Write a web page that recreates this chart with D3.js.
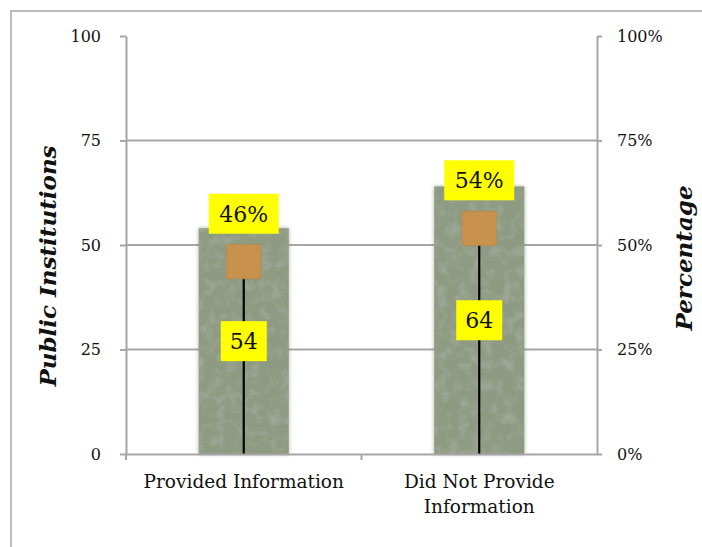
<!DOCTYPE html>
<html>
<head>
<meta charset="utf-8">
<script src="https://cdn.jsdelivr.net/npm/d3@7"></script>
<style>
  body { margin: 0; background: #fff; }
  text { font-family: "DejaVu Serif", "Liberation Serif", serif; }
</style>
</head>
<body>
<div id="chart"></div>
<script>
// data
var categories = ["Provided Information", "Did Not Provide Information"];
var categoryLines = [["Provided Information"], ["Did Not Provide", "Information"]];
var counts = [54, 64];
var percents = [46, 54];
var leftTicks = [0, 25, 50, 75, 100];
var rightTicks = [0, 25, 50, 75, 100];

var width = 702, height = 547;
var margin = { top: 36, right: 105, bottom: 93, left: 126 };
var innerW = width - margin.left - margin.right;
var innerH = height - margin.top - margin.bottom;

var svg = d3.select("#chart").append("svg")
    .attr("width", width)
    .attr("height", height);

// texture filter for the bars
var defs = svg.append("defs");
var f = defs.append("filter").attr("id", "grain")
    .attr("x", "-10%").attr("y", "-5%").attr("width", "120%").attr("height", "110%");
f.append("feGaussianBlur").attr("in", "SourceAlpha").attr("stdDeviation", 2).attr("result", "shadow");
f.append("feFlood").attr("flood-color", "#6f7a66").attr("flood-opacity", 0.6);
f.append("feComposite").attr("in2", "shadow").attr("operator", "in").attr("result", "shadowC");
f.append("feTurbulence").attr("type", "fractalNoise").attr("baseFrequency", "0.09")
    .attr("numOctaves", 3).attr("seed", 4).attr("result", "noise");
f.append("feColorMatrix").attr("in", "noise").attr("type", "matrix")
    .attr("values", "0 0 0 0 0.35  0 0 0 0 0.4  0 0 0 0 0.32  0 0 0 -2.4 1.3")
    .attr("result", "spots");
f.append("feComposite").attr("in", "spots").attr("in2", "SourceGraphic").attr("operator", "in").attr("result", "spotsIn");
var m = f.append("feMerge");
m.append("feMergeNode").attr("in", "shadowC");
m.append("feMergeNode").attr("in", "SourceGraphic");
m.append("feMergeNode").attr("in", "spotsIn");

// outer frame
svg.append("rect")
    .attr("x", 11).attr("y", 11)
    .attr("width", width + 20).attr("height", height + 20)
    .attr("fill", "none").attr("stroke", "#a6a6a6").attr("stroke-width", 1.5);

var g = svg.append("g").attr("transform", "translate(" + margin.left + "," + margin.top + ")");

var xb = d3.scaleBand().domain(categories).range([0, innerW]);
var y = d3.scaleLinear().domain([0, 100]).range([innerH, 0]);
var yp = d3.scaleLinear().domain([0, 100]).range([innerH, 0]);

// gridlines
g.append("g").selectAll("line")
    .data(leftTicks.filter(function (d) { return d > 0 && d < 100; }))
    .enter().append("line")
    .attr("x1", 0).attr("x2", innerW)
    .attr("y1", function (d) { return y(d); }).attr("y2", function (d) { return y(d); })
    .attr("stroke", "#a6a6a6").attr("stroke-width", 2);

// bars
g.append("g").selectAll("rect")
    .data(counts)
    .enter().append("rect")
    .attr("x", function (d, i) { return xb(categories[i]) + xb.bandwidth() / 2 - 45; })
    .attr("width", 90)
    .attr("y", function (d) { return y(d); })
    .attr("height", function (d) { return innerH - y(d); })
    .attr("fill", "#8e9b82")
    .attr("filter", "url(#grain)");

// drop lines
g.append("g").selectAll("line")
    .data(percents)
    .enter().append("line")
    .attr("x1", function (d, i) { return xb(categories[i]) + xb.bandwidth() / 2; })
    .attr("x2", function (d, i) { return xb(categories[i]) + xb.bandwidth() / 2; })
    .attr("y1", function (d) { return yp(d); })
    .attr("y2", innerH)
    .attr("stroke", "#000").attr("stroke-width", 2.2);

// markers
g.append("g").selectAll("rect")
    .data(percents)
    .enter().append("rect")
    .attr("x", function (d, i) { return xb(categories[i]) + xb.bandwidth() / 2 - 17; })
    .attr("y", function (d) { return yp(d) - 17; })
    .attr("width", 34).attr("height", 34)
    .attr("fill", "#c9924c")
    .attr("stroke", "#b98a52").attr("stroke-width", 1);

// axes
var axisL = g.append("g").call(d3.axisLeft(y).tickValues(leftTicks).tickSize(6).tickSizeOuter(0));
var axisR = g.append("g").attr("transform", "translate(" + innerW + ",0)")
    .call(d3.axisRight(yp).tickValues(rightTicks).tickSize(5).tickSizeOuter(0)
        .tickFormat(function (d) { return d + "%"; }));
var axisB = g.append("g").attr("transform", "translate(0," + innerH + ")")
    .call(d3.axisBottom(xb).tickValues([]).tickSizeOuter(0));

[axisL, axisR, axisB].forEach(function (a) {
    a.select(".domain").attr("stroke", "#a6a6a6").attr("stroke-width", 2);
    a.selectAll(".tick line").attr("stroke", "#a6a6a6").attr("stroke-width", 2);
    a.selectAll("text").attr("fill", "#111").style("font-size", "16px")
        .style("font-family", "'DejaVu Serif', serif");
});
axisL.selectAll("text").attr("x", -25);
axisR.selectAll("text").attr("x", 20);

// bottom ticks: left end and middle divider
g.append("g").selectAll("line")
    .data([0, 1])
    .enter().append("line")
    .attr("x1", function (d) { return d * xb.bandwidth(); })
    .attr("x2", function (d) { return d * xb.bandwidth(); })
    .attr("y1", innerH).attr("y2", innerH + 6)
    .attr("stroke", "#a6a6a6").attr("stroke-width", 2);

// category labels
var cat = g.append("g").selectAll("text")
    .data(categoryLines)
    .enter().append("text")
    .attr("text-anchor", "middle")
    .attr("transform", function (d, i) {
        return "translate(" + (xb(categories[i]) + xb.bandwidth() / 2) + "," + (innerH + 34) + ")";
    })
    .style("font-size", "18.5px").attr("fill", "#111");
cat.selectAll("tspan")
    .data(function (d) { return d; })
    .enter().append("tspan")
    .attr("x", 0)
    .attr("dy", function (d, i) { return i === 0 ? 0 : 25; })
    .text(function (d) { return d; });

// yellow value labels
function yellowLabel(parent, cx, cy, txt, w) {
    parent.append("rect")
        .attr("x", cx - w / 2).attr("y", cy - 20)
        .attr("width", w).attr("height", 40)
        .attr("fill", "#ffff00");
    parent.append("text")
        .attr("x", cx).attr("y", cy + 8)
        .attr("text-anchor", "middle")
        .style("font-size", "22px").attr("fill", "#111")
        .text(txt);
}
var labels = g.append("g");
counts.forEach(function (d, i) {
    var cx = xb(categories[i]) + xb.bandwidth() / 2;
    yellowLabel(labels, cx, (y(d) + innerH) / 2, d, 46);
    yellowLabel(labels, cx, yp(percents[i]) - 48, percents[i] + "%", 70);
});

// axis titles
svg.append("text")
    .attr("transform", "translate(56," + (margin.top + innerH / 2 + 21) + ") rotate(-90)")
    .attr("text-anchor", "middle")
    .style("font-size", "23px").style("font-weight", "bold").style("font-style", "italic")
    .attr("fill", "#111")
    .text("Public Institutions");
svg.append("text")
    .attr("transform", "translate(692," + (margin.top + innerH / 2 + 13) + ") rotate(-90)")
    .attr("text-anchor", "middle")
    .style("font-size", "23px").style("font-weight", "bold").style("font-style", "italic")
    .attr("fill", "#111")
    .text("Percentage");
</script>
</body>
</html>
